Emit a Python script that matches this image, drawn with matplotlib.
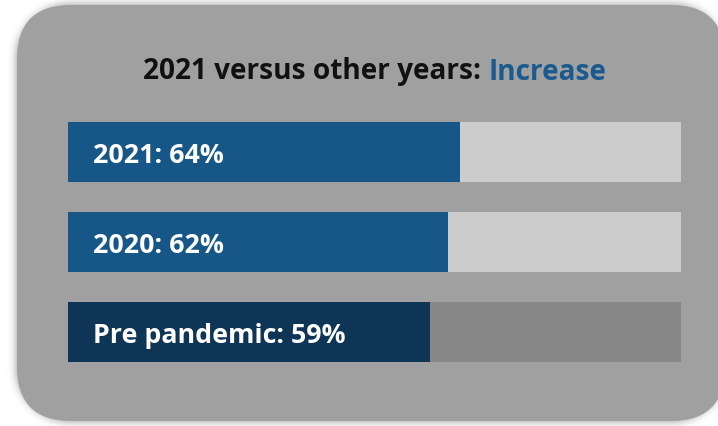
import matplotlib
matplotlib.use("Agg")
import matplotlib.pyplot as plt
from matplotlib.patches import FancyBboxPatch
import numpy as np

# Data
categories = ["2021", "2020", "Pre pandemic"]
values = [64, 62, 59]
fill_colors = ["#175788", "#175788", "#0e3556"]
track_colors = ["#cccccc", "#cccccc", "#878787"]
title_main = "2021 versus other years: "
title_accent = "Increase"

W, H = 718, 427
fig = plt.figure(figsize=(W / 100, H / 100), dpi=100)
fig.patch.set_facecolor("white")

# Background card, laid out in pixel coordinates
bg = fig.add_axes([0, 0, 1, 1])
bg.set_xlim(0, W)
bg.set_ylim(H, 0)
bg.axis("off")

x0, y0, x1, y1 = 16, 5, 726, 423
rad = 54

# Blurred drop shadow built from a rounded-rectangle mask
yy, xx = np.mgrid[0:H, 0:W] + 0.5
cx = np.clip(xx, x0 + rad, x1 - rad)
cy = np.clip(yy, y0 + rad, y1 - rad)
inside = ((xx - cx) ** 2 + (yy - cy) ** 2 <= rad ** 2) & (xx >= x0) & (xx <= x1) & (yy >= y0) & (yy <= y1)
mask = np.pad(inside.astype(float), 20)
k = np.exp(-0.5 * (np.arange(-12, 13) / 4.0) ** 2)
k /= k.sum()
mask = np.apply_along_axis(lambda r: np.convolve(r, k, mode="same"), 1, mask)
mask = np.apply_along_axis(lambda c: np.convolve(c, k, mode="same"), 0, mask)
mask = mask[20:-20, 20:-20]
shadow = np.zeros((H, W, 4))
shadow[..., :3] = 0.35
shadow[..., 3] = mask * 0.55
bg.imshow(shadow, extent=(0, W, H, 0), interpolation="bilinear", zorder=0)
bg.set_xlim(0, W)
bg.set_ylim(H, 0)

bg.add_patch(FancyBboxPatch((x0 + 1, y0 + 1), x1 - x0 - 2, y1 - y0 - 2,
                            boxstyle=f"round,pad=0,rounding_size={rad}",
                            facecolor="#a0a0a0", edgecolor="none", zorder=1))

font = "Open Sans"

# Title with the accented last word, sitting on a shared baseline
t1 = bg.text(0, 0, title_main, fontsize=20.2, fontweight="bold", color="#111111",
             family=font, va="baseline", ha="left", zorder=2)
t2 = bg.text(0, 0, title_accent, fontsize=20.2, fontweight="bold", color="#1a5a8e",
             family=font, va="baseline", ha="left", zorder=2)
fig.canvas.draw()
r = fig.canvas.get_renderer()
w1 = t1.get_window_extent(r).width
w2 = t2.get_window_extent(r).width
start = 375 - (w1 + w2) / 2
t1.set_position((start, 79.5))
t2.set_position((start + w1, 79.5))

# Bars: one row per category, full-width track behind the value bar
ax = fig.add_axes([68 / W, 1 - 363 / H, (681 - 68) / W, (363 - 123) / H])
ax.set_xlim(0, 100)
ax.set_ylim(2 + 1 / 3, -1 / 3)
ax.axis("off")
ypos = np.arange(len(categories))
bh = 2 / 3
ax.barh(ypos, [100] * len(categories), height=bh, color=track_colors, edgecolor="none")
ax.barh(ypos, values, height=bh, color=fill_colors, edgecolor="none")
for y, c, v in zip(ypos, categories, values):
    ax.text(4.1, y + 10.3 / 90, f"{c}: {v}%", color="white", fontsize=19.3,
            fontweight="bold", family=font, va="baseline", ha="left")

fig.savefig("out.png", dpi=100, facecolor="white")
